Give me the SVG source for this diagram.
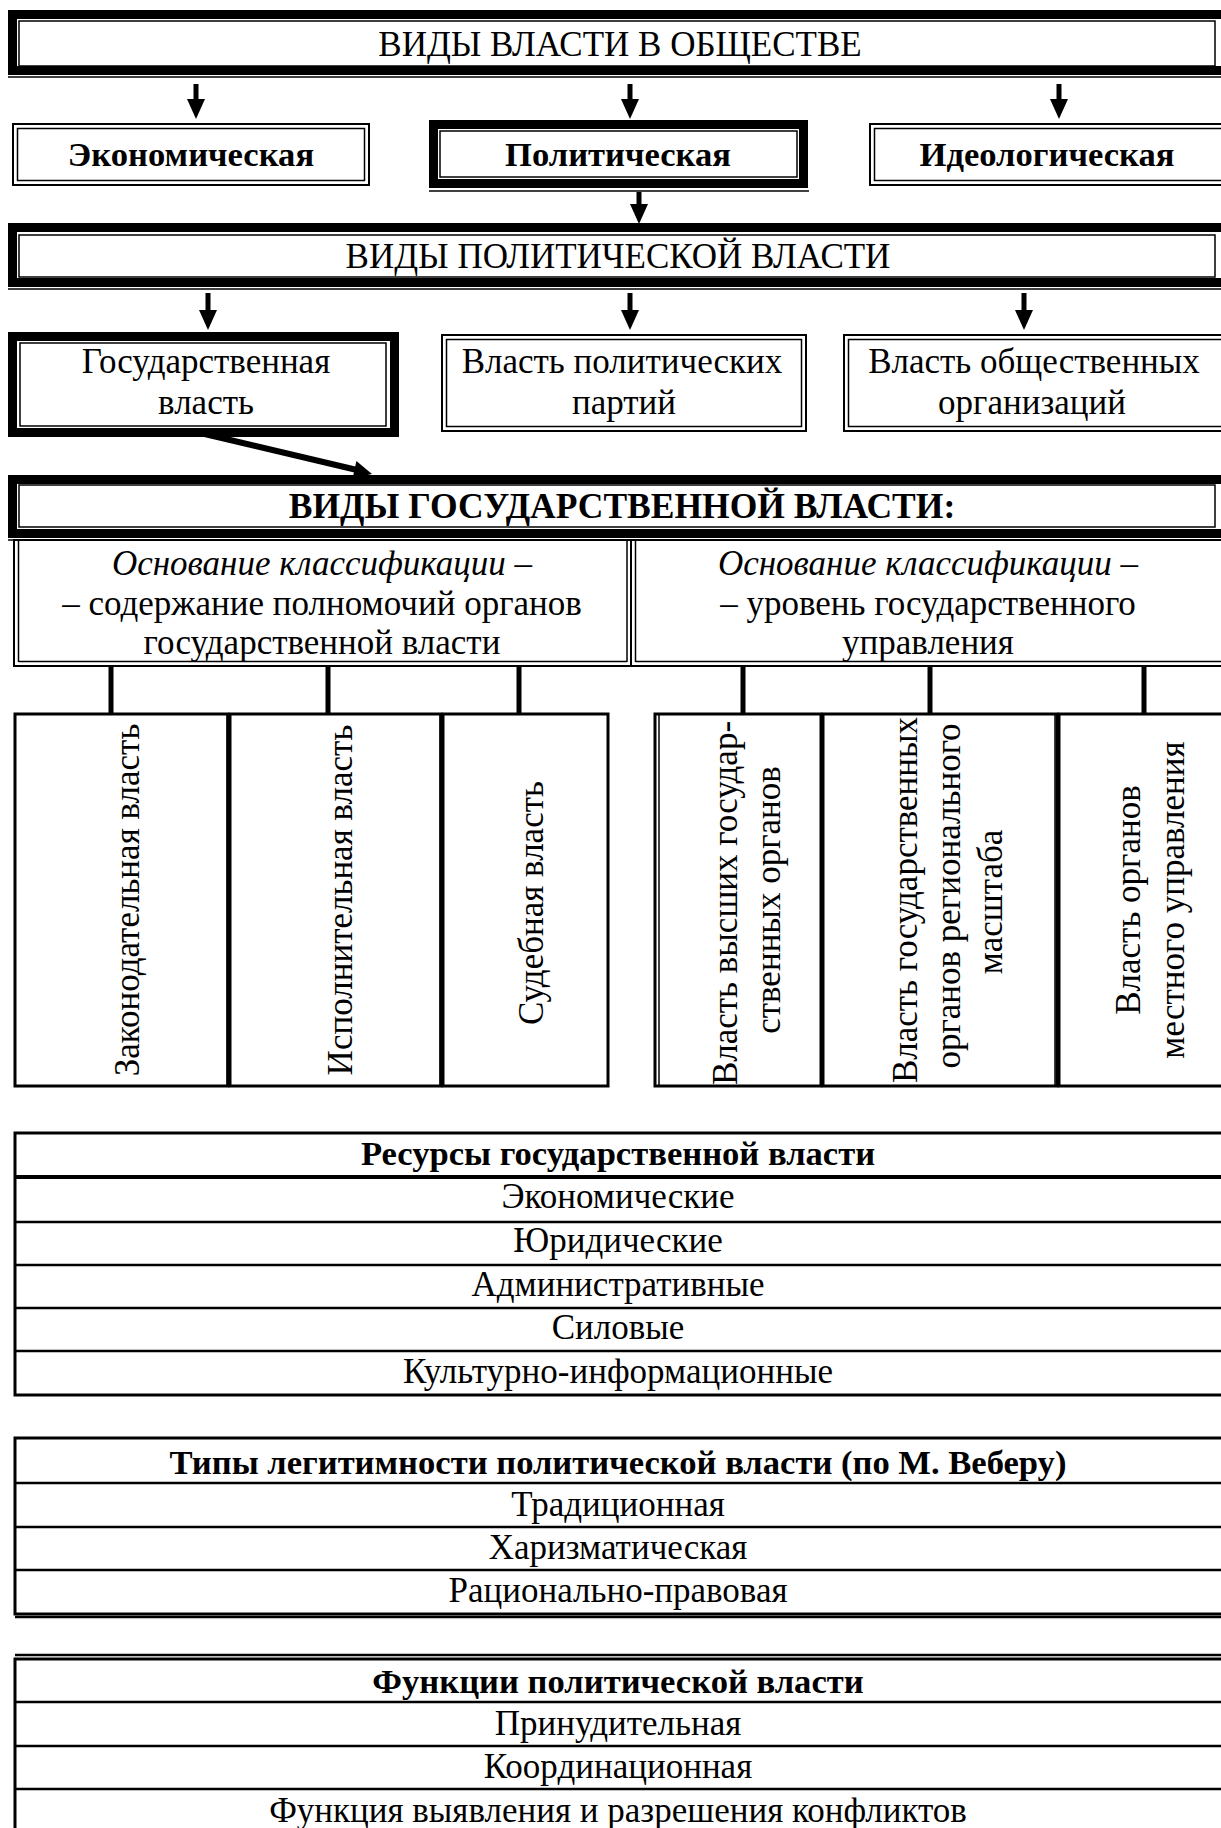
<svg xmlns="http://www.w3.org/2000/svg" width="1221" height="1828" viewBox="0 0 1221 1828">
<defs>
<style>
text{font-family:"Liberation Serif","Times New Roman",serif;font-size:35px;fill:#000;text-anchor:middle}
.b{font-weight:bold;font-size:34.6px}
.i{font-style:italic}
.thick{fill:none;stroke:#000;stroke-width:9}
.thin{fill:none;stroke:#000;stroke-width:1.5}
.dbl{fill:none;stroke:#000;stroke-width:2}
.conn{stroke:#000;stroke-width:5;fill:none}
.shaft{stroke:#000;stroke-width:5;fill:none}
.head{fill:#000}
.frame{fill:none;stroke:#000;stroke-width:3}
.div{stroke:#000;stroke-width:1.5}
.tl{stroke:#000;stroke-width:2.5}
.tlh{stroke:#000;stroke-width:4}
</style>
</defs>
<rect width="1221" height="1828" fill="#fff"/>

<g id="n-vidy-vlasti">
<rect class="thick" x="12.5" y="14.5" width="1220" height="56"/>
<rect class="thin" x="19" y="21" width="1196" height="45"/>
<line class="thin" x1="8" y1="77" x2="1221" y2="77"/>
<text x="620" y="56">ВИДЫ ВЛАСТИ В ОБЩЕСТВЕ</text>
</g>

<g id="n-econ">
<rect class="dbl" x="13" y="124" width="356" height="61"/>
<rect class="thin" x="17.5" y="128.5" width="347" height="52"/>
<text class="b" x="191" y="166">Экономическая</text>
</g>

<g id="n-polit">
<rect class="thick" x="433.5" y="124.5" width="370" height="59"/>
<rect class="thin" x="440" y="131" width="357" height="46"/>
<line class="thin" x1="429" y1="191" x2="809" y2="191"/>
<text class="b" x="618" y="166">Политическая</text>
</g>

<g id="n-ideo">
<rect class="dbl" x="870" y="124" width="360" height="61"/>
<rect class="thin" x="874.5" y="128.5" width="360" height="52"/>
<text class="b" x="1047" y="166">Идеологическая</text>
</g>

<g id="n-vidy-polit">
<rect class="thick" x="12.5" y="227.5" width="1220" height="55"/>
<rect class="thin" x="19" y="235" width="1196" height="42"/>
<line class="thin" x1="8" y1="289" x2="1221" y2="289"/>
<text x="618" y="268">ВИДЫ ПОЛИТИЧЕСКОЙ ВЛАСТИ</text>
</g>

<g id="n-gos">
<rect class="thick" x="12.5" y="336.5" width="382" height="96"/>
<rect class="thin" x="20" y="343" width="366" height="83"/>
<text x="206" y="373">Государственная</text>
<text x="206" y="414">власть</text>
</g>

<g id="n-partii">
<rect class="dbl" x="442" y="335" width="364" height="96"/>
<rect class="thin" x="446.5" y="339.5" width="355" height="87"/>
<text x="622" y="373">Власть политических</text>
<text x="624" y="414">партий</text>
</g>

<g id="n-obsh">
<rect class="dbl" x="844" y="335" width="390" height="96"/>
<rect class="thin" x="848.5" y="339.5" width="390" height="87"/>
<text x="1034" y="373">Власть общественных</text>
<text x="1032" y="414">организаций</text>
</g>

<g id="n-vidy-gos">
<rect class="thick" x="12.5" y="479.5" width="1220" height="54"/>
<rect class="thin" x="19" y="485" width="1196" height="42"/>
<line class="thin" x1="8" y1="540" x2="1221" y2="540"/>
<text class="b" x="622" y="518" style="font-size:35.5px">ВИДЫ ГОСУДАРСТВЕННОЙ ВЛАСТИ:</text>
</g>

<g id="n-osn-1">
<rect class="dbl" x="14" y="540" width="617" height="126"/>
<line class="thin" x1="18.5" y1="540" x2="18.5" y2="662"/>
<line class="thin" x1="18.5" y1="661.5" x2="627" y2="661.5"/>
<line class="thin" x1="627" y1="540" x2="627" y2="662"/>
<text x="322" y="575"><tspan class="i">Основание классификации</tspan> –</text>
<text x="322" y="615">– содержание полномочий органов</text>
<text x="322" y="654">государственной власти</text>
</g>

<g id="n-osn-2">
<rect class="dbl" x="631" y="540" width="600" height="126"/>
<line class="thin" x1="635.5" y1="540" x2="635.5" y2="662"/>
<line class="thin" x1="635.5" y1="661.5" x2="1221" y2="661.5"/>
<text x="928" y="575"><tspan class="i">Основание классификации</tspan> –</text>
<text x="928" y="615">– уровень государственного</text>
<text x="928" y="654">управления</text>
</g>

<g id="n-zakon">
<rect class="frame" x="15" y="714" width="213" height="372"/>
<line class="div" x1="227" y1="714" x2="227" y2="1086"/>
<text transform="translate(139,900) rotate(-90)">Законодательная власть</text>
</g>
<g id="n-ispoln">
<rect class="frame" x="230" y="714" width="211" height="372"/>
<line class="div" x1="440" y1="714" x2="440" y2="1086"/>
<text transform="translate(352,900) rotate(-90)">Исполнительная власть</text>
</g>
<g id="n-sud">
<rect class="frame" x="443" y="714" width="165" height="372"/>
<text transform="translate(543,903) rotate(-90)">Судебная власть</text>
</g>

<g id="n-vysh">
<rect class="frame" x="655" y="714" width="166" height="372"/>
<line class="div" x1="659" y1="714" x2="659" y2="1086"/>
<text transform="translate(737,903) rotate(-90)">Власть высших государ-</text>
<text transform="translate(780,900) rotate(-90)">ственных органов</text>
</g>
<g id="n-region">
<rect class="frame" x="823" y="714" width="234" height="372"/>
<line class="div" x1="1055" y1="714" x2="1055" y2="1086"/>
<text transform="translate(917,900) rotate(-90)">Власть государственных</text>
<text transform="translate(960,896) rotate(-90)">органов регионального</text>
<text transform="translate(1002,902) rotate(-90)">масштаба</text>
</g>
<g id="n-mest">
<rect class="frame" x="1059" y="714" width="180" height="372"/>
<text transform="translate(1140,900) rotate(-90)">Власть органов</text>
<text transform="translate(1184,900) rotate(-90)">местного управления</text>
</g>

<g id="n-resursy">
<rect class="frame" x="15" y="1133" width="1220" height="262"/>
<line class="tlh" x1="15" y1="1177" x2="1221" y2="1177"/>
<line class="tl" x1="15" y1="1222" x2="1221" y2="1222"/>
<line class="tl" x1="15" y1="1265" x2="1221" y2="1265"/>
<line class="tl" x1="15" y1="1308" x2="1221" y2="1308"/>
<line class="tl" x1="15" y1="1351" x2="1221" y2="1351"/>
<text class="b" x="618" y="1165">Ресурсы государственной власти</text>
<text x="618" y="1208">Экономические</text>
<text x="618" y="1252">Юридические</text>
<text x="618" y="1296">Административные</text>
<text x="618" y="1339">Силовые</text>
<text x="618" y="1383">Культурно-информационные</text>
</g>

<g id="n-legit">
<rect class="frame" x="15" y="1438" width="1220" height="176"/>
<line class="tl" x1="15" y1="1617" x2="1221" y2="1617"/>
<line class="tl" x1="15" y1="1483" x2="1221" y2="1483"/>
<line class="tl" x1="15" y1="1527" x2="1221" y2="1527"/>
<line class="tl" x1="15" y1="1570" x2="1221" y2="1570"/>
<text class="b" x="618" y="1474">Типы легитимности политической власти (по М. Веберу)</text>
<text x="618" y="1516">Традиционная</text>
<text x="618" y="1559">Харизматическая</text>
<text x="618" y="1602">Рационально-правовая</text>
</g>

<g id="n-funk">
<line class="tl" x1="15" y1="1655" x2="1221" y2="1655"/>
<rect class="frame" x="15" y="1659" width="1220" height="172"/>
<line class="tl" x1="15" y1="1702" x2="1221" y2="1702"/>
<line class="tl" x1="15" y1="1746" x2="1221" y2="1746"/>
<line class="tl" x1="15" y1="1789" x2="1221" y2="1789"/>
<text class="b" x="618" y="1693">Функции политической власти</text>
<text x="618" y="1735">Принудительная</text>
<text x="618" y="1778">Координационная</text>
<text x="618" y="1822">Функция выявления и разрешения конфликтов</text>
</g>

<g id="connectors">
<line class="shaft" x1="196" y1="84" x2="196" y2="101"/>
<polygon class="head" points="187,99 205,99 196,119"/>
<line class="shaft" x1="630" y1="84" x2="630" y2="101"/>
<polygon class="head" points="621,99 639,99 630,119"/>
<line class="shaft" x1="1059" y1="84" x2="1059" y2="101"/>
<polygon class="head" points="1050,99 1068,99 1059,119"/>
<line class="shaft" x1="639" y1="192" x2="639" y2="206"/>
<polygon class="head" points="630,204 648,204 639,224"/>
<line class="shaft" x1="208" y1="293" x2="208" y2="312"/>
<polygon class="head" points="199,310 217,310 208,330"/>
<line class="shaft" x1="630" y1="293" x2="630" y2="312"/>
<polygon class="head" points="621,310 639,310 630,330"/>
<line class="shaft" x1="1024" y1="293" x2="1024" y2="312"/>
<polygon class="head" points="1015,310 1033,310 1024,330"/>
<line class="shaft" x1="192" y1="431" x2="357" y2="470" style="stroke-width:6"/>
<polygon class="head" points="356.4,461 352.6,478.6 372,474"/>
<line class="conn" x1="111" y1="666" x2="111" y2="714"/>
<line class="conn" x1="328" y1="666" x2="328" y2="714"/>
<line class="conn" x1="519" y1="666" x2="519" y2="714"/>
<line class="conn" x1="743" y1="666" x2="743" y2="714"/>
<line class="conn" x1="930" y1="666" x2="930" y2="714"/>
<line class="conn" x1="1144" y1="666" x2="1144" y2="714"/>
</g>
</svg>
